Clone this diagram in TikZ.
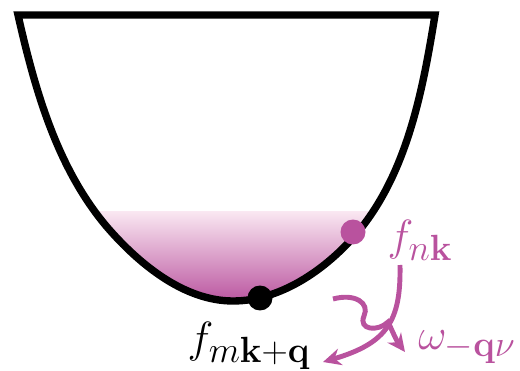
\documentclass[tikz,border=0pt]{standalone}
\usepackage{amsmath,amssymb}
\usepackage{xcolor}
\usepackage{tikz}
\usetikzlibrary{arrows.meta}
\definecolor{epmag}{RGB}{185,82,158}
\definecolor{epink}{RGB}{250,232,242}
\tikzset{
  well/.style={draw=black, line width=4.2pt, line join=miter},
  dot/.style={circle, inner sep=0pt, minimum size=0.5cm},
  lbl/.style={font=\fontsize{29}{34}\selectfont, inner sep=0pt},
  flow/.style={-{Stealth[length=3.6mm, width=3.4mm, inset=1.2mm]},
               line width=2.8pt, color=epmag},
}
% band edge (pixel grid of the sketch)
\def\wellcurve{(18,15) .. controls (35,90) and (57,168) .. (107,227)
  .. controls (139,264) and (184,301) .. (233,301)
  .. controls (283,301) and (331,266) .. (362,227)
  .. controls (408,168) and (423,89) .. (435,15) -- cycle}

\begin{document}
\begin{tikzpicture}[x=0.02cm, y=-0.02cm]
\useasboundingbox (0,0) rectangle (520,371);
% filled states
\begin{scope}
  \clip \wellcurve;
  \shade[top color=epink, bottom color=epmag] (0,211) rectangle (520,304);
\end{scope}
% band
\draw[well] \wellcurve;
\node[dot, fill=epmag] (nk) at (353,232) {};
\node[dot, fill=black] (mkq) at (260,298) {};
\node[lbl, text=epmag] (fnk) at (420,240) {$f_{n\mathbf{k}}$};
\node[lbl] (fmkq) at (249,346) {$f_{m\mathbf{k}+\mathbf{q}}$};
\node[lbl, text=epmag] (phon) at (467,347) {$\omega_{-\mathbf{q}\nu}$};
% scattering
\coordinate (elsrc) at (400,265);
\coordinate (eltip) at (323,362);
\coordinate (phsrc) at (333,299);
\coordinate (phtip) at (405,352);
\draw[flow] (elsrc) .. controls (401,320) and (388,343) .. (eltip);
\draw[flow] (phsrc) .. controls (355,293) and (370,303) .. (364,316)
  .. controls (358,330) and (378,332) .. (388,322)
  .. controls (392,330) and (396,340) .. (phtip);
\end{tikzpicture}
\end{document}
